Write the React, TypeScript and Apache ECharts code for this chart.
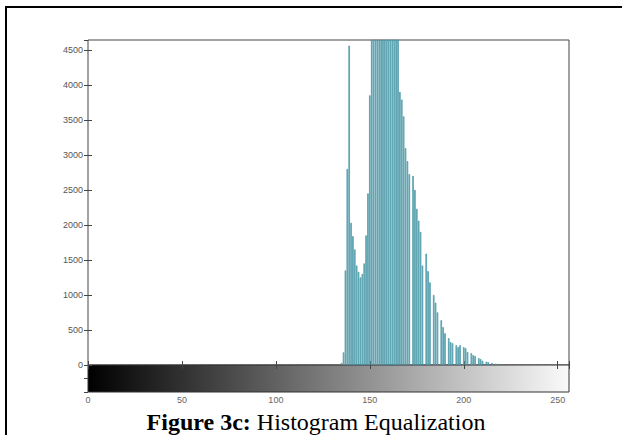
import React, { useEffect, useRef } from "react";
import * as echarts from "echarts";

// Grey levels (x) and pixel counts (y)
const levels = [
  135, 136, 137, 138, 139, 140, 141, 142, 143, 144, 145, 146, 147, 148, 149, 150,
  151, 152, 153, 154, 155, 156, 157, 158, 159, 160, 161, 162, 163, 164, 165,
  166, 167, 168, 169, 170, 171, 173, 174, 175, 176, 177, 178, 180, 181, 182, 184,
  185, 186, 188, 189, 190, 192, 193, 194, 196, 197, 198, 200, 201, 202, 204, 205,
  206, 208, 209, 210, 212, 213, 215, 217, 218, 220,
];
const counts = [
  30, 180, 1350, 2800, 4560, 2030, 1840, 1650, 1420, 1330, 1250, 1300, 1450, 1850, 2450, 3850,
  5200, 5900, 6500, 7000, 7400, 7600, 7700, 7500, 7200, 6800, 6300, 5800, 5300, 4900, 4700,
  3900, 3790, 3550, 3095, 2910, 2725, 2700, 2500, 2230, 2060, 1900, 1420, 1590, 1340, 1180, 1000,
  890, 752, 640, 540, 454, 383, 327, 312, 284, 255, 284, 255, 241, 185, 170, 142,
  128, 99, 85, 60, 47, 40, 30, 20, 15, 10,
];
const xTicks = [0, 50, 100, 150, 200, 250];
const yTicks = [0, 500, 1000, 1500, 2000, 2500, 3000, 3500, 4000, 4500];
const captionBold = "Figure 3c:";
const captionText = " Histogram Equalization";

export default function App() {
  const ref = useRef<HTMLDivElement>(null);
  useEffect(() => {
    if (!ref.current) return;
    const chart = echarts.init(ref.current, undefined, { renderer: "svg" });
    const tickStyle = { color: "#444", width: 1 };
    const labelStyle = { color: "#555", fontSize: 9, fontFamily: "Liberation Sans, Arial, sans-serif" };
    chart.setOption({
      animation: false,
      backgroundColor: "#fff",
      grid: [
        { left: 88, top: 40, width: 481, height: 325, show: true, borderColor: "#444", borderWidth: 1, backgroundColor: "transparent" },
        {
          left: 88, top: 365, width: 481, height: 27, show: true, borderColor: "#333", borderWidth: 1,
          backgroundColor: new echarts.graphic.LinearGradient(0, 0, 1, 0, [
            { offset: 0, color: "#000" },
            { offset: 1, color: "#fafafa" },
          ]),
        },
      ],
      xAxis: [
        {
          gridIndex: 0, type: "value", min: 0, max: 256, interval: 50, position: "bottom",
          axisLine: { show: false }, axisTick: { show: true, inside: true, length: 4, lineStyle: tickStyle },
          axisLabel: { show: false }, splitLine: { show: false },
        },
        {
          gridIndex: 0, type: "value", min: 0, max: 256, interval: 50, position: "top",
          axisLine: { show: false }, axisTick: { show: true, inside: true, length: 4, lineStyle: tickStyle },
          axisLabel: { show: false }, splitLine: { show: false },
        },
        {
          gridIndex: 1, type: "value", min: 0, max: 256, interval: 50, position: "bottom",
          axisLine: { show: false }, axisTick: { show: false },
          axisLabel: {
            show: true, ...labelStyle, color: "#666", margin: 3, showMaxLabel: false,
            formatter: (v: number) => (xTicks.includes(v) ? String(v) : ""),
          },
          splitLine: { show: false },
        },
      ],
      yAxis: [
        {
          gridIndex: 0, type: "value", min: 0, max: 4640, interval: 500, position: "left",
          axisLine: { show: false }, axisTick: { show: true, inside: true, length: 4, lineStyle: tickStyle },
          axisLabel: {
            show: true, ...labelStyle, margin: 5, showMaxLabel: false,
            formatter: (v: number) => (yTicks.includes(v) ? String(v) : ""),
          },
          splitLine: { show: false },
        },
        {
          gridIndex: 0, type: "value", min: 0, max: 4640, interval: 500, position: "right",
          axisLine: { show: false }, axisTick: { show: true, inside: true, length: 4, lineStyle: tickStyle },
          axisLabel: { show: false }, splitLine: { show: false },
        },
        {
          gridIndex: 1, type: "value", min: 0, max: 2, interval: 1, position: "right",
          axisLine: { show: false }, axisTick: { show: true, inside: true, length: 4, lineStyle: tickStyle },
          axisLabel: { show: false }, splitLine: { show: false },
        },
      ],
      series: [
        {
          type: "bar",
          xAxisIndex: 0,
          yAxisIndex: 0,
          barWidth: 1.5,
          clip: true,
          itemStyle: { color: "#8fd0da", borderColor: "#3f8e9d", borderWidth: 0.7 },
          data: levels.map((l, i) => [l, counts[i]]),
        },
      ],
      graphic: [
        { type: "rect", shape: { x: 5, y: 6, width: 617, height: 2 }, style: { fill: "#000" }, silent: true },
        { type: "rect", shape: { x: 5, y: 6, width: 2, height: 429 }, style: { fill: "#000" }, silent: true },
        {
          type: "text",
          x: 316,
          y: 422,
          style: {
            text: "{b|" + captionBold + "}{r|" + captionText + "}",
            align: "center",
            verticalAlign: "middle",
            rich: {
              b: { fontFamily: "Liberation Serif, Times New Roman, serif", fontWeight: "bold", fontSize: 24, fill: "#000" },
              r: { fontFamily: "Liberation Serif, Times New Roman, serif", fontSize: 24, fill: "#000" },
            },
          },
        },
      ],
    });
    return () => chart.dispose();
  }, []);
  return <div ref={ref} style={{ position: "fixed", left: 0, top: 0, width: 622, height: 435 }} />;
}
